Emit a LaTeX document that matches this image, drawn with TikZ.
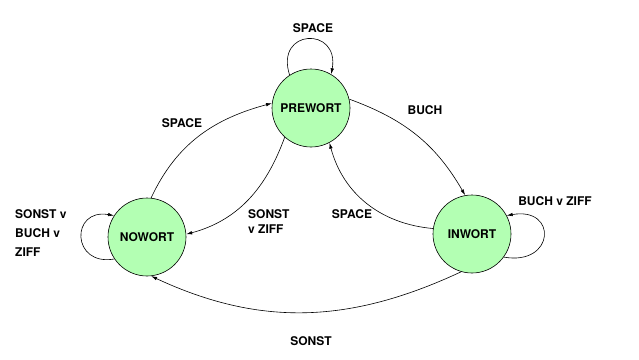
\documentclass[tikz,border=0pt]{standalone}
\usepackage{fontspec}
\setmainfont{TeX Gyre Heros}
\usetikzlibrary{arrows.meta}
\definecolor{stategreen}{RGB}{179,255,179}

\begin{document}
\begin{tikzpicture}[
  x=1bp, y=1bp,
  state/.style={circle, draw, fill=stategreen, line width=0.6bp, minimum size=78bp, inner sep=0pt, font=\fontsize{12bp}{14bp}\selectfont\bfseries},
  lbl/.style={align=left, inner sep=0pt, font=\fontsize{12bp}{15bp}\selectfont\bfseries},
  arrow/.style={-{Latex[length=6bp, width=3.5bp]}, line width=0.6bp}
]
\useasboundingbox (0,0) rectangle (639,359);
\node[state] (prewort) at (311,251) {PREWORT};
\node[state] (nowort) at (147,122) {NOWORT};
\node[state] (inwort) at (472,125) {INWORT};

\node[lbl] (lspacetop) at (313,331) {SPACE};
\node[lbl] (lspaceleft) at (182,236) {SPACE};
\node[lbl] (lbuch) at (425,249) {BUCH};
\node[lbl, anchor=west] (lsonstziff) at (248,137) {SONST\\v ZIFF};
\node[lbl] (lspaceright) at (352,145) {SPACE};
\node[lbl] (lbuchziff) at (555,158) {BUCH v ZIFF};
\node[lbl, anchor=west, font=\fontsize{12bp}{19bp}\selectfont\bfseries] (lnoloop) at (15,126) {SONST v\\BUCH v\\ZIFF};
\node[lbl] (lsonst) at (311,18) {SONST};

\draw[arrow] (prewort.123) to[out=108, in=80, looseness=3] (prewort.59);
\draw[arrow] (nowort.214) to[out=190, in=170, looseness=2.6] (nowort.147);
\draw[arrow] (inwort.324) to[out=-10, in=10, looseness=3.2] (inwort.28);
\draw[arrow] (nowort.84) to[out=65, in=195] (prewort.173);
\draw[arrow] (prewort.228) to[out=250, in=15] (nowort.4);
\draw[arrow] (prewort.13) to[out=-20, in=120] (inwort.100);
\draw[arrow] (inwort.172) to[out=175, in=-75] (prewort.298);
\draw[arrow] (inwort.254) to[out=205, in=-25] (nowort.276);
\end{tikzpicture}
\end{document}
